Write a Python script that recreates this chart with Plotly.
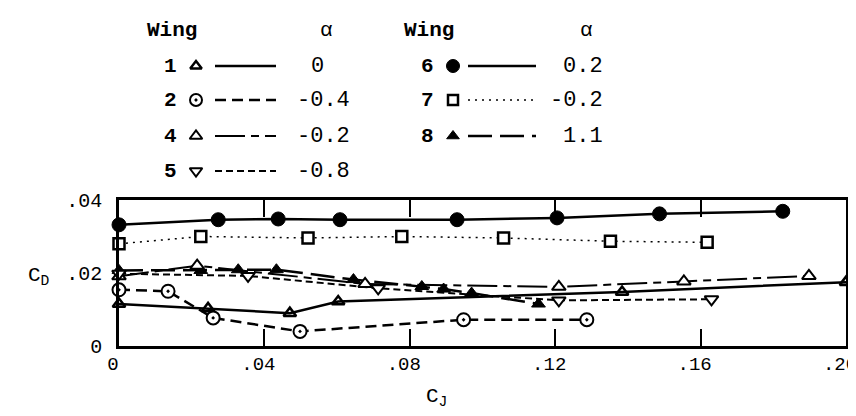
import plotly.graph_objects as go

# ---------------- data ----------------
cj_w1 = [0, 0.0245, 0.047, 0.0603, 0.1384, 0.20]
cd_w1 = [0.0115, 0.0103, 0.0090, 0.0122, 0.0148, 0.0175]

cj_w2 = [0, 0.0135, 0.0259, 0.0498, 0.0948, 0.1287]
cd_w2 = [0.0154, 0.0150, 0.0077, 0.0040, 0.0072, 0.0072]

cj_w4 = [0, 0.0215, 0.0677, 0.121, 0.1554, 0.1898]
cd_w4 = [0.0191, 0.0220, 0.0170, 0.0162, 0.0177, 0.0192]

cj_w5 = [0, 0.0355, 0.0713, 0.121, 0.163]
cd_w5 = [0.0198, 0.0192, 0.0158, 0.0125, 0.0128]

cj_w6 = [0, 0.0273, 0.0438, 0.0608, 0.093, 0.1205, 0.1487, 0.1826]
cd_w6 = [0.0332, 0.0346, 0.0348, 0.0346, 0.0346, 0.0351, 0.0362, 0.0369]

cj_w7 = [0, 0.0225, 0.052, 0.0778, 0.1058, 0.1352, 0.1618]
cd_w7 = [0.0280, 0.0300, 0.0296, 0.0300, 0.0296, 0.0287, 0.0284]

cj_w8 = [0, 0.0225, 0.0328, 0.0433, 0.0645, 0.0833, 0.0893, 0.097, 0.1154]
cd_w8 = [0.0207, 0.0207, 0.0209, 0.0209, 0.0182, 0.0163, 0.0156, 0.0145, 0.0115]

wing_names = ["1", "2", "4", "5", "6", "7", "8"]
wing_alpha = ["0", "-0.4", "-0.2", "-0.8", "0.2", "-0.2", "1.1"]

x_tick_vals = [0, 0.04, 0.08, 0.12, 0.16, 0.20]
x_tick_text = ["0", ".04", ".08", ".12", ".16", ".20"]
y_tick_vals = [0, 0.02, 0.04]
y_tick_text = ["0", ".02", ".04"]

# ---------------- styles ----------------
FONT = "Liberation Mono"
W, H = 856, 416
L, R, B = 111, 18, 78
PW = W - L - R          # plot width in px
PH = H - B              # height of paper region (t = 0)
MAIN_H = 146            # main plot height in px

styles = {
    "1": dict(dash="solid", width=2.5, symbol="triangle-up-open", size=11, color="black", lw=2.5),
    "2": dict(dash="11px,6px", width=2.5, symbol="circle-dot", size=13, color="white", lw=2),
    "4": dict(dash="30px,6px,8px,6px", width=2, symbol="triangle-up", size=12, color="white", lw=2),
    "5": dict(dash="7px,4px", width=2, symbol="triangle-down", size=12, color="white", lw=2),
    "6": dict(dash="solid", width=2.5, symbol="circle", size=14, color="black", lw=1),
    "7": dict(dash="2px,5px", width=1.5, symbol="square", size=11, color="white", lw=2.5),
    "8": dict(dash="24px,8px", width=2.5, symbol="triangle-up", size=12, color="black", lw=1),
}

series = {
    "1": (cj_w1, cd_w1), "2": (cj_w2, cd_w2), "4": (cj_w4, cd_w4),
    "5": (cj_w5, cd_w5), "6": (cj_w6, cd_w6), "7": (cj_w7, cd_w7),
    "8": (cj_w8, cd_w8),
}

fig = go.Figure()

# lines first, markers on top
order = ["7", "6", "8", "4", "5", "1", "2"]
for w in order:
    s = styles[w]
    x, y = series[w]
    fig.add_trace(go.Scatter(x=x, y=y, mode="lines", showlegend=False, hoverinfo="skip",
                             line=dict(color="black", width=s["width"], dash=s["dash"])))
for w in order:
    s = styles[w]
    x, y = series[w]
    fig.add_trace(go.Scatter(x=x, y=y, mode="markers", showlegend=False, name="Wing " + w,
                             cliponaxis=False,
                             marker=dict(symbol=s["symbol"], size=s["size"], color=s["color"],
                                         line=dict(color="black", width=s["lw"]))))

# ---------------- custom legend (pixel-unit helper axes) ----------------
col_wing_x = [137, 394]
col_num_x = [162, 419]
col_marker_x = [188, 445]
col_line_x = [(207, 268), (460, 528)]
col_alpha_x = [318, 578]
row_y = [58, 92, 128, 163]
header_y = 22

annotations = []
for c in range(2):
    annotations.append(dict(x=col_wing_x[c], y=header_y, xref="x2", yref="y2", text="<b>Wing</b>",
                            showarrow=False, xanchor="left", yanchor="middle",
                            font=dict(family=FONT, size=21, color="black")))
    annotations.append(dict(x=col_alpha_x[c], y=header_y, xref="x2", yref="y2", text="α",
                            showarrow=False, xanchor="center", yanchor="middle",
                            font=dict(family=FONT, size=21, color="black")))

for i, w in enumerate(wing_names):
    c = 0 if i < 4 else 1
    r = i if i < 4 else i - 4
    s = styles[w]
    yy = row_y[r]
    x0, x1 = col_line_x[c]
    fig.add_trace(go.Scatter(x=[x0, x1], y=[yy, yy], xaxis="x2", yaxis="y2", mode="lines",
                             showlegend=False, hoverinfo="skip",
                             line=dict(color="black", width=s["width"], dash=s["dash"])))
    fig.add_trace(go.Scatter(x=[col_marker_x[c]], y=[yy], xaxis="x2", yaxis="y2", mode="markers",
                             showlegend=False, hoverinfo="skip",
                             marker=dict(symbol=s["symbol"], size=s["size"] - 1, color=s["color"],
                                         line=dict(color="black", width=s["lw"]))))
    annotations.append(dict(x=col_num_x[c], y=yy, xref="x2", yref="y2", text="<b>" + w + "</b>",
                            showarrow=False, xanchor="center", yanchor="middle",
                            font=dict(family=FONT, size=21, color="black")))
    a = wing_alpha[i]
    if c == 0:
        ax = 287 if a.startswith("-") else 287 + 14
        annotations.append(dict(x=ax, y=yy, xref="x2", yref="y2", text=a, showarrow=False,
                                xanchor="left", yanchor="middle",
                                font=dict(family=FONT, size=22, color="black")))
    else:
        annotations.append(dict(x=597, y=yy, xref="x2", yref="y2", text=a, showarrow=False,
                                xanchor="right", yanchor="middle",
                                font=dict(family=FONT, size=22, color="black")))

# axis titles
def px_to_paper(px, py):
    return (px - L) / PW, (PH - py) / PH

cdx, cdy = px_to_paper(31, 268)
annotations.append(dict(x=cdx, y=cdy, xref="paper", yref="paper", text="C<sub>D</sub>",
                        showarrow=False, xanchor="center", yanchor="middle",
                        font=dict(family=FONT, size=21, color="black")))
cjx, cjy = px_to_paper(428, 390)
annotations.append(dict(x=cjx, y=cjy, xref="paper", yref="paper", text="C<sub>J</sub>",
                        showarrow=False, xanchor="center", yanchor="middle",
                        font=dict(family=FONT, size=21, color="black")))

fig.update_layout(
    width=W, height=H,
    margin=dict(l=L, r=R, t=0, b=B, pad=0),
    paper_bgcolor="white", plot_bgcolor="rgba(0,0,0,0)",
    showlegend=False,
    xaxis=dict(range=[0, 0.2], tickvals=x_tick_vals, ticktext=x_tick_text,
               ticks="inside", ticklen=17, tickwidth=1.5, tickcolor="black",
               showline=True, linewidth=2.5, linecolor="black", mirror="ticks",
               showgrid=False, zeroline=False, ticklabelstandoff=-2,
               ticklabelshift=-6,
               ticklabeloverflow="allow", automargin=False,
               tickfont=dict(family=FONT, size=19, color="black"), anchor="y"),
    yaxis=dict(range=[0, 0.04], tickvals=y_tick_vals, ticktext=y_tick_text,
               domain=[0, MAIN_H / PH], ticks="", showline=True, linewidth=2.5,
               linecolor="black", mirror=True, showgrid=False, zeroline=False,
               ticklabelstandoff=10, automargin=False,
               tickfont=dict(family=FONT, size=20, color="black"), anchor="x"),
    xaxis2=dict(range=[L, L + PW], domain=[0, 1], visible=False, anchor="y2"),
    yaxis2=dict(range=[PH, 0], domain=[0, 1], visible=False, anchor="x2"),
    annotations=annotations,
)

fig.write_html("out.html")
